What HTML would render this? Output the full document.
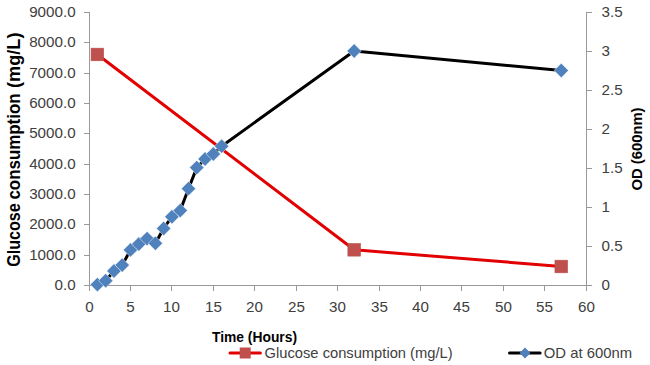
<!DOCTYPE html>
<html><head><meta charset="utf-8"><style>
html,body{margin:0;padding:0;background:#fff;}
svg{display:block;}
text{font-family:"Liberation Sans",sans-serif;}
.lab{font-size:14px;fill:#404040;}
.leg{font-size:14.5px;fill:#404040;}
.ttl{font-size:14px;font-weight:bold;fill:#000;}
.ttl2{font-size:18.5px;font-weight:bold;fill:#000;}
</style></head><body>
<svg width="650" height="365" viewBox="0 0 650 365">
<rect width="650" height="365" fill="#fff"/>
<line x1="89.5" y1="12.0" x2="89.5" y2="290.0" stroke="#999999" stroke-width="1"/>
<line x1="586.5" y1="12.0" x2="586.5" y2="290.0" stroke="#999999" stroke-width="1"/>
<line x1="89" y1="285.5" x2="587" y2="285.5" stroke="#999999" stroke-width="1"/>
<line x1="84" y1="285.5" x2="89.5" y2="285.5" stroke="#999999" stroke-width="1"/>
<text x="75.6" y="290.1" text-anchor="end" class="lab" textLength="21.11" lengthAdjust="spacingAndGlyphs">0.0</text>
<line x1="84" y1="255.5" x2="89.5" y2="255.5" stroke="#999999" stroke-width="1"/>
<text x="75.6" y="260.1" text-anchor="end" class="lab" textLength="46.45" lengthAdjust="spacingAndGlyphs">1000.0</text>
<line x1="84" y1="224.5" x2="89.5" y2="224.5" stroke="#999999" stroke-width="1"/>
<text x="75.6" y="229.1" text-anchor="end" class="lab" textLength="46.45" lengthAdjust="spacingAndGlyphs">2000.0</text>
<line x1="84" y1="194.5" x2="89.5" y2="194.5" stroke="#999999" stroke-width="1"/>
<text x="75.6" y="199.1" text-anchor="end" class="lab" textLength="46.45" lengthAdjust="spacingAndGlyphs">3000.0</text>
<line x1="84" y1="164.5" x2="89.5" y2="164.5" stroke="#999999" stroke-width="1"/>
<text x="75.6" y="169.1" text-anchor="end" class="lab" textLength="46.45" lengthAdjust="spacingAndGlyphs">4000.0</text>
<line x1="84" y1="133.5" x2="89.5" y2="133.5" stroke="#999999" stroke-width="1"/>
<text x="75.6" y="138.1" text-anchor="end" class="lab" textLength="46.45" lengthAdjust="spacingAndGlyphs">5000.0</text>
<line x1="84" y1="103.5" x2="89.5" y2="103.5" stroke="#999999" stroke-width="1"/>
<text x="75.6" y="108.1" text-anchor="end" class="lab" textLength="46.45" lengthAdjust="spacingAndGlyphs">6000.0</text>
<line x1="84" y1="73.5" x2="89.5" y2="73.5" stroke="#999999" stroke-width="1"/>
<text x="75.6" y="78.1" text-anchor="end" class="lab" textLength="46.45" lengthAdjust="spacingAndGlyphs">7000.0</text>
<line x1="84" y1="42.5" x2="89.5" y2="42.5" stroke="#999999" stroke-width="1"/>
<text x="75.6" y="47.1" text-anchor="end" class="lab" textLength="46.45" lengthAdjust="spacingAndGlyphs">8000.0</text>
<line x1="84" y1="12.5" x2="89.5" y2="12.5" stroke="#999999" stroke-width="1"/>
<text x="75.6" y="17.1" text-anchor="end" class="lab" textLength="46.45" lengthAdjust="spacingAndGlyphs">9000.0</text>
<line x1="586.5" y1="285.5" x2="592" y2="285.5" stroke="#999999" stroke-width="1"/>
<text x="601.5" y="290.1" class="lab" textLength="8.45" lengthAdjust="spacingAndGlyphs">0</text>
<line x1="586.5" y1="246.5" x2="592" y2="246.5" stroke="#999999" stroke-width="1"/>
<text x="601.5" y="251.1" class="lab" textLength="21.11" lengthAdjust="spacingAndGlyphs">0.5</text>
<line x1="586.5" y1="207.5" x2="592" y2="207.5" stroke="#999999" stroke-width="1"/>
<text x="601.5" y="212.1" class="lab" textLength="8.45" lengthAdjust="spacingAndGlyphs">1</text>
<line x1="586.5" y1="168.5" x2="592" y2="168.5" stroke="#999999" stroke-width="1"/>
<text x="601.5" y="173.1" class="lab" textLength="21.11" lengthAdjust="spacingAndGlyphs">1.5</text>
<line x1="586.5" y1="129.5" x2="592" y2="129.5" stroke="#999999" stroke-width="1"/>
<text x="601.5" y="134.1" class="lab" textLength="8.45" lengthAdjust="spacingAndGlyphs">2</text>
<line x1="586.5" y1="90.5" x2="592" y2="90.5" stroke="#999999" stroke-width="1"/>
<text x="601.5" y="95.1" class="lab" textLength="21.11" lengthAdjust="spacingAndGlyphs">2.5</text>
<line x1="586.5" y1="51.5" x2="592" y2="51.5" stroke="#999999" stroke-width="1"/>
<text x="601.5" y="56.1" class="lab" textLength="8.45" lengthAdjust="spacingAndGlyphs">3</text>
<line x1="586.5" y1="12.5" x2="592" y2="12.5" stroke="#999999" stroke-width="1"/>
<text x="601.5" y="17.1" class="lab" textLength="21.11" lengthAdjust="spacingAndGlyphs">3.5</text>
<line x1="89.5" y1="285.5" x2="89.5" y2="291" stroke="#999999" stroke-width="1"/>
<text x="89.5" y="312" text-anchor="middle" class="lab" textLength="8.45" lengthAdjust="spacingAndGlyphs">0</text>
<line x1="130.5" y1="285.5" x2="130.5" y2="291" stroke="#999999" stroke-width="1"/>
<text x="130.5" y="312" text-anchor="middle" class="lab" textLength="8.45" lengthAdjust="spacingAndGlyphs">5</text>
<line x1="171.5" y1="285.5" x2="171.5" y2="291" stroke="#999999" stroke-width="1"/>
<text x="171.5" y="312" text-anchor="middle" class="lab" textLength="16.89" lengthAdjust="spacingAndGlyphs">10</text>
<line x1="213.5" y1="285.5" x2="213.5" y2="291" stroke="#999999" stroke-width="1"/>
<text x="213.5" y="312" text-anchor="middle" class="lab" textLength="16.89" lengthAdjust="spacingAndGlyphs">15</text>
<line x1="254.5" y1="285.5" x2="254.5" y2="291" stroke="#999999" stroke-width="1"/>
<text x="254.5" y="312" text-anchor="middle" class="lab" textLength="16.89" lengthAdjust="spacingAndGlyphs">20</text>
<line x1="296.5" y1="285.5" x2="296.5" y2="291" stroke="#999999" stroke-width="1"/>
<text x="296.5" y="312" text-anchor="middle" class="lab" textLength="16.89" lengthAdjust="spacingAndGlyphs">25</text>
<line x1="337.5" y1="285.5" x2="337.5" y2="291" stroke="#999999" stroke-width="1"/>
<text x="337.5" y="312" text-anchor="middle" class="lab" textLength="16.89" lengthAdjust="spacingAndGlyphs">30</text>
<line x1="379.5" y1="285.5" x2="379.5" y2="291" stroke="#999999" stroke-width="1"/>
<text x="379.5" y="312" text-anchor="middle" class="lab" textLength="16.89" lengthAdjust="spacingAndGlyphs">35</text>
<line x1="420.5" y1="285.5" x2="420.5" y2="291" stroke="#999999" stroke-width="1"/>
<text x="420.5" y="312" text-anchor="middle" class="lab" textLength="16.89" lengthAdjust="spacingAndGlyphs">40</text>
<line x1="461.5" y1="285.5" x2="461.5" y2="291" stroke="#999999" stroke-width="1"/>
<text x="461.5" y="312" text-anchor="middle" class="lab" textLength="16.89" lengthAdjust="spacingAndGlyphs">45</text>
<line x1="503.5" y1="285.5" x2="503.5" y2="291" stroke="#999999" stroke-width="1"/>
<text x="503.5" y="312" text-anchor="middle" class="lab" textLength="16.89" lengthAdjust="spacingAndGlyphs">50</text>
<line x1="544.5" y1="285.5" x2="544.5" y2="291" stroke="#999999" stroke-width="1"/>
<text x="544.5" y="312" text-anchor="middle" class="lab" textLength="16.89" lengthAdjust="spacingAndGlyphs">55</text>
<line x1="586.5" y1="285.5" x2="586.5" y2="291" stroke="#999999" stroke-width="1"/>
<text x="586.5" y="312" text-anchor="middle" class="lab" textLength="16.89" lengthAdjust="spacingAndGlyphs">60</text>
<text x="212" y="342" class="ttl" textLength="85" lengthAdjust="spacingAndGlyphs">Time (Hours)</text>
<g transform="translate(19.6,266.2) rotate(-90)"><text x="-0.6" y="0" class="ttl2" textLength="63.5" lengthAdjust="spacingAndGlyphs">Glucose</text><text x="66.6" y="0" class="ttl2" textLength="106.2" lengthAdjust="spacingAndGlyphs">consumption</text><text x="178.2" y="0" class="ttl2" textLength="55.5" lengthAdjust="spacingAndGlyphs">(mg/L)</text></g>
<text transform="translate(642,190.5) rotate(-90)" x="0" y="0" class="ttl" textLength="83" lengthAdjust="spacingAndGlyphs">OD (600nm)</text>
<polyline points="97.38,54.47 354.17,249.81 561.25,266.50" fill="none" stroke="#e20000" stroke-width="3" stroke-linejoin="round"/>
<rect x="91.08" y="48.17" width="12.6" height="12.6" fill="#c0504d" stroke="#b9504c" stroke-width="0.6"/>
<rect x="347.87" y="243.51" width="12.6" height="12.6" fill="#c0504d" stroke="#b9504c" stroke-width="0.6"/>
<rect x="554.95" y="260.20" width="12.6" height="12.6" fill="#c0504d" stroke="#b9504c" stroke-width="0.6"/>
<polyline points="97.38,284.61 105.67,280.71 113.95,270.96 122.23,265.11 130.52,249.90 138.80,244.05 147.08,238.59 155.37,243.27 163.65,228.45 171.93,216.75 180.22,210.51 188.50,188.67 196.78,167.61 205.07,159.03 213.35,153.96 221.63,146.16 354.17,51.00 561.25,70.50" fill="none" stroke="#000" stroke-width="3" stroke-linejoin="round"/>
<polygon points="97.38,277.41 104.58,284.61 97.38,291.81 90.18,284.61" fill="#4f81bd" stroke="#fff" stroke-width="0.6" stroke-opacity="0.8"/>
<polygon points="105.67,273.51 112.87,280.71 105.67,287.91 98.47,280.71" fill="#4f81bd" stroke="#fff" stroke-width="0.6" stroke-opacity="0.8"/>
<polygon points="113.95,263.76 121.15,270.96 113.95,278.16 106.75,270.96" fill="#4f81bd" stroke="#fff" stroke-width="0.6" stroke-opacity="0.8"/>
<polygon points="122.23,257.91 129.43,265.11 122.23,272.31 115.03,265.11" fill="#4f81bd" stroke="#fff" stroke-width="0.6" stroke-opacity="0.8"/>
<polygon points="130.52,242.70 137.72,249.90 130.52,257.10 123.32,249.90" fill="#4f81bd" stroke="#fff" stroke-width="0.6" stroke-opacity="0.8"/>
<polygon points="138.80,236.85 146.00,244.05 138.80,251.25 131.60,244.05" fill="#4f81bd" stroke="#fff" stroke-width="0.6" stroke-opacity="0.8"/>
<polygon points="147.08,231.39 154.28,238.59 147.08,245.79 139.88,238.59" fill="#4f81bd" stroke="#fff" stroke-width="0.6" stroke-opacity="0.8"/>
<polygon points="155.37,236.07 162.57,243.27 155.37,250.47 148.17,243.27" fill="#4f81bd" stroke="#fff" stroke-width="0.6" stroke-opacity="0.8"/>
<polygon points="163.65,221.25 170.85,228.45 163.65,235.65 156.45,228.45" fill="#4f81bd" stroke="#fff" stroke-width="0.6" stroke-opacity="0.8"/>
<polygon points="171.93,209.55 179.13,216.75 171.93,223.95 164.73,216.75" fill="#4f81bd" stroke="#fff" stroke-width="0.6" stroke-opacity="0.8"/>
<polygon points="180.22,203.31 187.42,210.51 180.22,217.71 173.02,210.51" fill="#4f81bd" stroke="#fff" stroke-width="0.6" stroke-opacity="0.8"/>
<polygon points="188.50,181.47 195.70,188.67 188.50,195.87 181.30,188.67" fill="#4f81bd" stroke="#fff" stroke-width="0.6" stroke-opacity="0.8"/>
<polygon points="196.78,160.41 203.98,167.61 196.78,174.81 189.58,167.61" fill="#4f81bd" stroke="#fff" stroke-width="0.6" stroke-opacity="0.8"/>
<polygon points="205.07,151.83 212.27,159.03 205.07,166.23 197.87,159.03" fill="#4f81bd" stroke="#fff" stroke-width="0.6" stroke-opacity="0.8"/>
<polygon points="213.35,146.76 220.55,153.96 213.35,161.16 206.15,153.96" fill="#4f81bd" stroke="#fff" stroke-width="0.6" stroke-opacity="0.8"/>
<polygon points="221.63,138.96 228.83,146.16 221.63,153.36 214.43,146.16" fill="#4f81bd" stroke="#fff" stroke-width="0.6" stroke-opacity="0.8"/>
<polygon points="354.17,43.80 361.37,51.00 354.17,58.20 346.97,51.00" fill="#4f81bd" stroke="#fff" stroke-width="0.6" stroke-opacity="0.8"/>
<polygon points="561.25,63.30 568.45,70.50 561.25,77.70 554.05,70.50" fill="#4f81bd" stroke="#fff" stroke-width="0.6" stroke-opacity="0.8"/>
<line x1="230" y1="353" x2="260.4" y2="353" stroke="#e20000" stroke-width="3" stroke-linecap="round"/>
<rect x="239.7" y="347.5" width="11" height="11" fill="#c0504d"/>
<text x="264.6" y="358" class="leg" textLength="188" lengthAdjust="spacingAndGlyphs">Glucose consumption (mg/L)</text>
<line x1="509.5" y1="353" x2="540.1" y2="353" stroke="#000" stroke-width="3" stroke-linecap="round"/>
<polygon points="525,347.6 530.4,353 525,358.4 519.6,353" fill="#4f81bd"/>
<text x="543.8" y="358" class="leg" textLength="88.3" lengthAdjust="spacingAndGlyphs">OD at 600nm</text>
</svg></body></html>
